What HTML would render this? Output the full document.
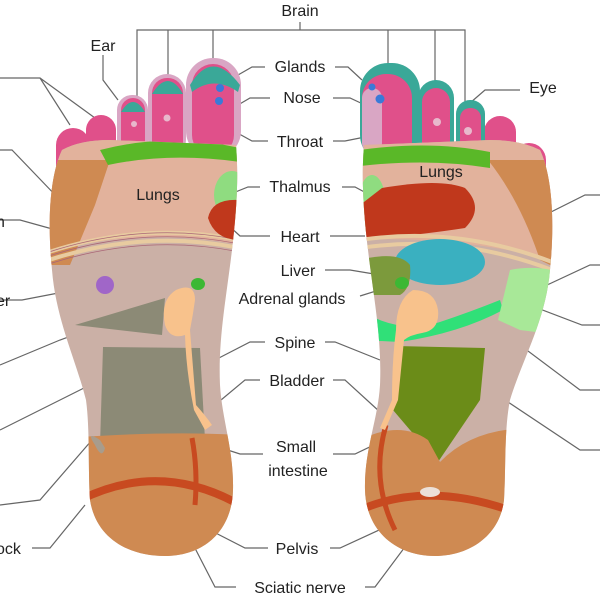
<!DOCTYPE html>
<html><head><meta charset="utf-8"><style>
html,body{margin:0;padding:0;background:#fff;width:600px;height:600px;overflow:hidden}
text{font-family:"Liberation Sans",sans-serif;font-size:16px;fill:#222}
</style></head><body>
<svg width="600" height="600" viewBox="0 0 600 600" xmlns="http://www.w3.org/2000/svg">
<defs>
<clipPath id="lf"><path d="M62,150 C48,180 48,230 52,270 C56,320 76,360 86,400 C90,430 88,470 90,500 C96,538 128,556 165,556 C205,556 232,530 233,490 C234,450 222,420 220,385 C218,340 226,300 232,250 C238,200 238,170 236,145 L110,140 Q80,140 62,150Z"/></clipPath>
<clipPath id="rf"><path d="M540,150 C554,180 554,230 550,270 C546,320 522,360 510,400 C504,430 506,470 504,500 C500,535 470,556 435,556 C395,556 366,530 365,490 C364,450 378,420 380,385 C382,340 374,300 368,250 C362,200 362,170 364,145 L490,140 Q520,140 540,150Z"/></clipPath>
</defs>
<g stroke="#666" stroke-width="1.2" fill="none">
<path d="M137,118 V30 H465 V118 M168,90 V30 M213,62 V30 M388,68 V30 M435,85 V30 M300,30 V22"/>
<path d="M103,55 L103,80 L118,100"/>
<path d="M0,78 H40 L70,125 M40,78 L95,118"/>
<path d="M0,150 H12 L60,200"/>
<path d="M0,220 H20 L110,245"/>
<path d="M0,300 H22 L100,285"/>
<path d="M0,365 L60,340 L120,318"/>
<path d="M0,430 L90,385"/>
<path d="M0,505 L40,500 L92,440"/>
<path d="M32,548 H50 L85,505"/>
<path d="M265,67 H252 L238,75 M335,67 H348 L362,80"/>
<path d="M270,98 H250 L238,105 M333,98 H350 L365,105"/>
<path d="M268,141 H252 L232,130 M333,141 H345 L365,137"/>
<path d="M260,187 H248 L228,195 M342,187 H355 L370,195"/>
<path d="M270,236 H240 L228,225 M330,236 H365"/>
<path d="M325,270 H350 L380,275"/>
<path d="M360,296 L395,285"/>
<path d="M265,342 H250 L215,360 M325,342 H335 L380,360"/>
<path d="M260,380 H245 L215,405 M333,380 H345 L380,412"/>
<path d="M263,454 H240 L150,425 M333,454 H355 L405,430"/>
<path d="M268,548 H245 L200,525 M330,548 H340 L390,525"/>
<path d="M236,587 H215 L165,490 M365,587 H375 L440,500"/>
<path d="M470,103 L485,90 H520"/>
<path d="M600,195 H585 L525,225"/>
<path d="M600,265 H590 L515,300"/>
<path d="M600,325 L582,325 L490,290"/>
<path d="M600,390 H580 L500,330"/>
<path d="M600,450 H580 L490,390"/>
</g>
<rect x="56" y="128" width="34" height="70" rx="17" fill="#e0508a"/>
<rect x="86" y="115" width="30" height="70" rx="15" fill="#e0508a"/>
<rect x="117" y="95" width="31" height="65" rx="15" fill="#d9a6c4"/>
<rect x="121" y="98" width="24" height="60" rx="12" fill="#e0508a"/>
<path d="M121,112 Q133,92 145,112 Z" fill="#3aa898"/>
<rect x="148" y="74" width="38" height="85" rx="19" fill="#d9a6c4"/>
<rect x="152" y="78" width="31" height="80" rx="15" fill="#e0508a"/>
<path d="M152,94 Q168,68 183,94 Z" fill="#3aa898"/>
<rect x="186" y="58" width="55" height="100" rx="27" fill="#d9a6c4"/>
<rect x="192" y="64" width="42" height="92" rx="21" fill="#e0508a"/>
<path d="M190,85 Q212,48 240,85 L238,92 Q214,75 192,92Z" fill="#3aa898"/>
<circle cx="134" cy="124" r="3" fill="#e8b8cc"/><circle cx="167" cy="118" r="3.5" fill="#e8b8cc"/>
<circle cx="220" cy="88" r="4" fill="#3a7ad8"/><circle cx="219" cy="101" r="4" fill="#3a7ad8"/>
<g clip-path="url(#lf)">
<rect x="0" y="0" width="300" height="600" fill="#cbb0a6"/>
<path d="M40,140 H240 V245 Q140,225 40,255Z" fill="#e2b29c"/>
<path d="M40,160 L110,160 L95,205 L70,265 L40,265Z" fill="#cf8a52"/>
<path d="M100,150 Q170,132 240,148 V162 Q170,152 108,165Z" fill="#5ab828"/>
<path d="M40,255 Q140,220 240,240" stroke="#e8cba0" stroke-width="4" fill="none"/>
<path d="M40,263 Q140,228 240,248" stroke="#e8cba0" stroke-width="4" fill="none"/>
<path d="M40,255 Q140,220 240,240 M40,259 Q140,224 240,244 M40,267 Q140,232 240,252" stroke="#a67" stroke-width="0.8" fill="none"/>
<ellipse cx="232" cy="195" rx="18" ry="24" fill="#8fdc80"/>
<path d="M240,200 Q212,198 208,218 Q215,240 240,240Z" fill="#c0381c"/>
<path d="M75,325 L165,298 L162,335 Z" fill="#8c8a76"/>
<path d="M103,347 L200,348 L205,440 L100,445 Z" fill="#8c8a76"/>
<path d="M40,440 Q160,430 240,435 V600 H40Z" fill="#cf8a52"/>
<path d="M80,500 Q160,460 240,505" stroke="#c84a20" stroke-width="8" fill="none"/>
<path d="M192,438 Q198,470 195,505" stroke="#c84a20" stroke-width="5" fill="none"/>
<path d="M100,440 Q85,430 95,445 Q102,460 105,448Z" fill="#a89c8c"/>
</g>
<path d="M176,290 Q195,282 195,300 Q193,315 190,330 L196,405 Q205,415 212,425 L205,430 L194,410 Q186,370 185,335 Q170,340 165,325 Q160,300 176,290Z" fill="#f8c28c"/>
<ellipse cx="198" cy="284" rx="7" ry="6" fill="#3cb834"/>
<circle cx="105" cy="285" r="9" fill="#a066c8"/>
<rect x="512" y="143" width="34" height="80" rx="17" fill="#e0508a"/>
<rect x="484" y="116" width="32" height="80" rx="16" fill="#e0508a"/>
<rect x="456" y="100" width="29" height="65" rx="14" fill="#3aa898"/>
<rect x="460" y="108" width="21" height="55" rx="10" fill="#e0508a"/>
<rect x="418" y="80" width="36" height="80" rx="18" fill="#3aa898"/>
<rect x="422" y="88" width="28" height="72" rx="14" fill="#e0508a"/>
<rect x="360" y="63" width="60" height="100" rx="28" fill="#3aa898"/>
<rect x="362" y="74" width="50" height="90" rx="24" fill="#e0508a"/>
<rect x="362" y="88" width="20" height="65" rx="10" fill="#d9a6c4"/>
<circle cx="372" cy="87" r="3.5" fill="#3a7ad8"/><circle cx="380" cy="99" r="4.5" fill="#3a7ad8"/>
<circle cx="437" cy="122" r="4" fill="#e8b8cc"/><circle cx="468" cy="131" r="4" fill="#e8b8cc"/>
<g clip-path="url(#rf)">
<rect x="300" y="0" width="300" height="600" fill="#cbb0a6"/>
<path d="M360,140 H560 V262 Q460,235 360,240Z" fill="#e2b29c"/>
<path d="M488,160 L560,160 L560,270 L540,260 Q520,200 488,160Z" fill="#cf8a52"/>
<path d="M360,150 Q430,140 490,152 V168 Q430,158 360,166Z" fill="#5ab828"/>
<ellipse cx="372" cy="205" rx="14" ry="30" fill="#8fdc80"/>
<path d="M382,188 Q440,178 465,188 Q485,208 465,228 Q420,235 360,240 L360,205Z" fill="#c0381c"/>
<path d="M360,240 Q460,225 560,265 M360,248 Q460,233 560,273" stroke="#e8cba0" stroke-width="4" fill="none"/>
<ellipse cx="440" cy="262" rx="45" ry="23" fill="#3ab0c0"/>
<path d="M368,258 Q400,252 410,265 Q412,288 400,295 L365,295Z" fill="#7c9a3c"/>
<path d="M360,310 Q400,335 440,322 Q470,312 500,300 L503,310 Q460,333 400,342 L360,340Z" fill="#30e078"/>
<path d="M510,270 Q535,265 560,272 V335 L520,330 L498,320Z" fill="#a8e898"/>
<path d="M395,346 L485,348 L480,400 L438,462 L410,430 L393,410Z" fill="#6b8c18"/>
<path d="M360,440 Q400,420 428,440 L440,462 Q480,420 560,430 V600 H360Z" fill="#cf8a52"/>
<path d="M360,510 Q440,475 545,525" stroke="#c84a20" stroke-width="8" fill="none"/>
<path d="M386,425 Q370,480 395,530" stroke="#c84a20" stroke-width="5" fill="none"/>
<ellipse cx="430" cy="492" rx="10" ry="5" fill="#ece0d8"/>
</g>
<path d="M413,290 Q435,290 438,310 Q440,330 422,333 Q410,335 404,340 L398,400 L385,430 L380,428 L392,400 Q392,360 396,330 Q396,300 413,290Z" fill="#f8c28c"/>
<ellipse cx="402" cy="283" rx="7" ry="6" fill="#3cb834"/>
<text x="300" y="16" text-anchor="middle">Brain</text>
<text x="103" y="51" text-anchor="middle">Ear</text>
<text x="300" y="72" text-anchor="middle">Glands</text>
<text x="302" y="103" text-anchor="middle">Nose</text>
<text x="300" y="147" text-anchor="middle">Throat</text>
<text x="300" y="192" text-anchor="middle">Thalmus</text>
<text x="300" y="242" text-anchor="middle">Heart</text>
<text x="298" y="276" text-anchor="middle">Liver</text>
<text x="292" y="304" text-anchor="middle">Adrenal glands</text>
<text x="295" y="348" text-anchor="middle">Spine</text>
<text x="297" y="386" text-anchor="middle">Bladder</text>
<text x="296" y="452" text-anchor="middle">Small</text>
<text x="298" y="476" text-anchor="middle">intestine</text>
<text x="297" y="554" text-anchor="middle">Pelvis</text>
<text x="300" y="593" text-anchor="middle">Sciatic nerve</text>
<text x="543" y="93" text-anchor="middle">Eye</text>
<text x="158" y="200" text-anchor="middle">Lungs</text>
<text x="441" y="177" text-anchor="middle">Lungs</text>
<text x="-4" y="227">n</text>
<text x="-4" y="306">er</text>
<text x="-4" y="554">ock</text>
</svg>
</body></html>
